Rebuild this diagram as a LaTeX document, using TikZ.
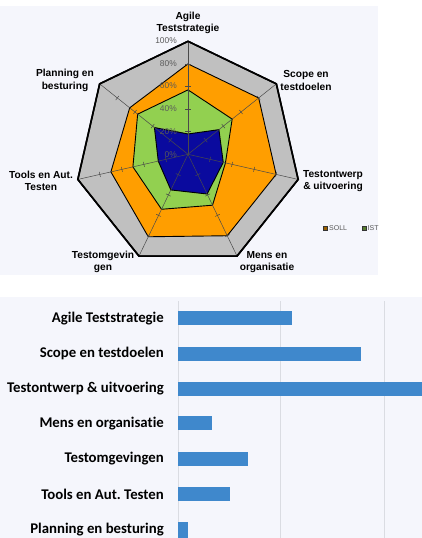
\documentclass[tikz,border=0pt]{standalone}
\usepackage{fontspec}
\setmainfont{Liberation Sans}
\newfontfamily\barfont[Ligatures=NoCommon]{Carlito}
\definecolor{panelbg}{HTML}{F5F6FC}
\definecolor{sollgray}{HTML}{C0C0C0}
\definecolor{orangefill}{HTML}{FF9E00}
\definecolor{greenfill}{HTML}{92D050}
\definecolor{bluefill}{HTML}{0A0A9E}
\definecolor{axisgray}{HTML}{4A4A4A}
\definecolor{pctgray}{HTML}{5A5A5A}
\definecolor{barblue}{HTML}{3F88CC}
\definecolor{gridgray}{HTML}{DADCE2}
\newcommand\ang[1]{{-90+#1*360/7}}
\newcommand\rr[1]{{#1*1.13}}
\frenchspacing
\tikzset{
  x=1pt, y=-1pt,
  poly/.style={draw=black, line width=0.9pt, line join=miter},
  axisline/.style={draw=axisgray, line width=0.5pt},
  tick/.style={draw=axisgray, line width=0.5pt},
  radarlabel/.style={font=\bfseries\fontsize{10.2}{12.4}\selectfont, align=center, inner sep=0pt},
  pctlabel/.style={font=\fontsize{8.4}{9}\selectfont, text=pctgray, anchor=east, inner sep=0pt},
  barlabel/.style={font=\barfont\bfseries\fontsize{14.8}{16}\selectfont, anchor=east, inner sep=0pt},
  bar/.style={fill=barblue, draw=none},
  legendtext/.style={font=\fontsize{7}{8}\selectfont, text=pctgray, anchor=west, inner sep=0pt}
}
\begin{document}
\begin{tikzpicture}
\frenchspacing
\useasboundingbox (0,0) rectangle (422,538);
\fill[white] (0,0) rectangle (422,538);
% ---------- top panel: radar chart ----------
\fill[panelbg] (0,6) rectangle (378,275);
\begin{scope}[shift={(188,154.3)}]
  % 100% polygon (gray)
  \draw[poly, fill=sollgray, line width=1.6pt]
    (\ang{0}:\rr{100}) -- (\ang{1}:\rr{100}) -- (\ang{2}:\rr{100}) -- (\ang{3}:\rr{100})
    -- (\ang{4}:\rr{100}) -- (\ang{5}:\rr{100}) -- (\ang{6}:\rr{100}) -- cycle;
  % orange
  \draw[poly, fill=orangefill]
    (\ang{0}:\rr{80}) -- (\ang{1}:\rr{80}) -- (\ang{2}:\rr{80}) -- (\ang{3}:\rr{80})
    -- (\ang{4}:\rr{81}) -- (\ang{5}:\rr{70}) -- (\ang{6}:\rr{66}) -- cycle;
  % green
  \draw[poly, fill=greenfill]
    (\ang{0}:\rr{57}) -- (\ang{1}:\rr{50}) -- (\ang{2}:\rr{34}) -- (\ang{3}:\rr{50})
    -- (\ang{4}:\rr{54}) -- (\ang{5}:\rr{50}) -- (\ang{6}:\rr{57}) -- cycle;
  % blue
  \draw[poly, fill=bluefill]
    (\ang{0}:\rr{18}) -- (\ang{1}:\rr{35}) -- (\ang{2}:\rr{32}) -- (\ang{3}:\rr{39})
    -- (\ang{4}:\rr{35}) -- (\ang{5}:\rr{27}) -- (\ang{6}:\rr{38}) -- cycle;
  % axes and ticks
  \foreach \k in {0,...,6} {
    \draw[axisline] (0,0) -- (\ang{\k}:\rr{99});
    \foreach \p in {20,40,60,80} {
      \draw[tick] ([shift={(\ang{\k}:\rr{\p})}]{-90+\k*360/7+90}:2.6)
               -- ([shift={(\ang{\k}:\rr{\p})}]{-90+\k*360/7-90}:2.6);
    }
  }
  % outer outline again on top
  \draw[draw=black, line width=1.6pt, line join=miter]
    (\ang{0}:\rr{100}) -- (\ang{1}:\rr{100}) -- (\ang{2}:\rr{100}) -- (\ang{3}:\rr{100})
    -- (\ang{4}:\rr{100}) -- (\ang{5}:\rr{100}) -- (\ang{6}:\rr{100}) -- cycle;
\end{scope}
% percent labels
\node[pctlabel] (p100) at (177,41) {100\%};
\node[pctlabel] (p80) at (177,63.5) {80\%};
\node[pctlabel] (p60) at (177,86) {60\%};
\node[pctlabel] (p40) at (177,109) {40\%};
\node[pctlabel] (p20) at (177,131.7) {20\%};
\node[pctlabel] (p0) at (177,154.5) {0\%};
% axis labels
\node[radarlabel] (lagile) at (188,23) {Agile\\Teststrategie};
\node[radarlabel] (lscope) at (306,80.5) {Scope en\\testdoelen};
\node[radarlabel] (ltest) at (333,181) {Testontwerp\\\& uitvoering};
\node[radarlabel] (lmens) at (267,262) {Mens en\\organisatie};
\node[radarlabel] (lomg) at (103,262) {Testomgevin\\gen};
\node[radarlabel] (ltools) at (41,181) {Tools en Aut.\\Testen};
\node[radarlabel] (lplan) at (65,80.5) {Planning en\\besturing};
% legend
\begin{scope}
  \clip (0,0) rectangle (378,275);
  \draw[fill=orangefill!60!black, draw=black!80, line width=0.6pt] (323.5,226.3) rectangle (327.5,230.3);
  \node[legendtext] (lsoll) at (329,228.5) {SOLL};
  \draw[fill=greenfill!60!black, draw=black!80, line width=0.6pt] (362,226.3) rectangle (366,230.3);
  \node[legendtext] (list) at (367.5,228.5) {IST};
\end{scope}
% ---------- bottom panel: bar chart ----------
\fill[panelbg] (0,297) rectangle (422,538);
\begin{scope}
  \clip (0,297) rectangle (422,538);
  \draw[gridgray, line width=0.8pt] (178.3,301) -- (178.3,538);
  \draw[gridgray, line width=0.8pt] (280.7,301) -- (280.7,538);
  \draw[gridgray, line width=0.8pt] (384.3,301) -- (384.3,538);
  \fill[bar] (178.3,311.3) rectangle (292,325.3);
  \fill[bar] (178.3,346.7) rectangle (361,360.7);
  \fill[bar] (178.3,382) rectangle (425,396);
  \fill[bar] (178.3,416.3) rectangle (212.3,430.3);
  \fill[bar] (178.3,452) rectangle (247.7,466);
  \fill[bar] (178.3,487.3) rectangle (230,501.3);
  \fill[bar] (178.3,522.3) rectangle (187.7,540);
  \node[barlabel] (b1) at (164,318.3) {Agile Teststrategie};
  \node[barlabel] (b2) at (164,353.7) {Scope en testdoelen};
  \node[barlabel] (b3) at (164,389) {Testontwerp \& uitvoering};
  \node[barlabel] (b4) at (164,423.3) {Mens en organisatie};
  \node[barlabel] (b5) at (164,459) {Testomgevingen};
  \node[barlabel] (b6) at (164,494.3) {Tools en Aut. Testen};
  \node[barlabel] (b7) at (164,529.3) {Planning en besturing};
\end{scope}
\end{tikzpicture}
\end{document}
